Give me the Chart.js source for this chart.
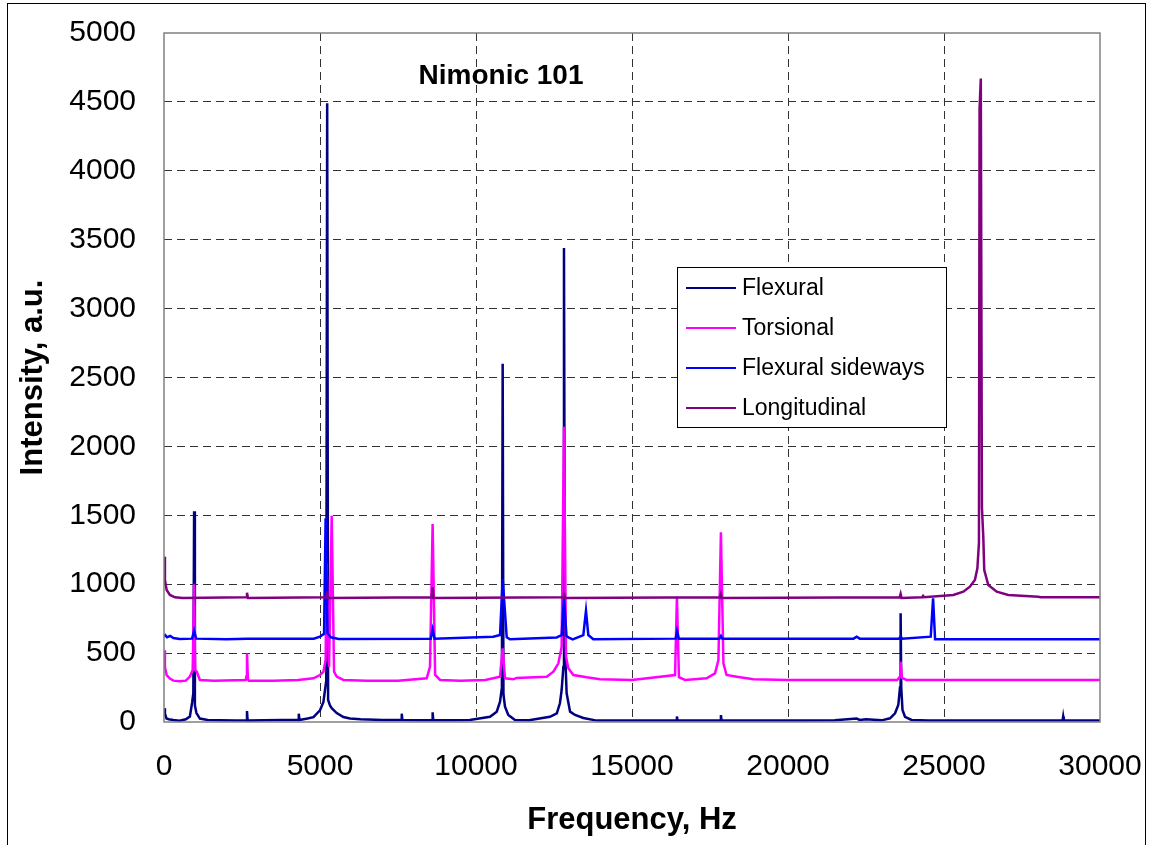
<!DOCTYPE html>
<html lang="en">
  <head>
    <meta charset="utf-8" />
    <title>Nimonic 101</title>
    <style>
      html,
      body {
        margin: 0;
        padding: 0;
        background: #fff;
        overflow: hidden;
      }

      .chartBox {
        position: relative;
        width: 1150px;
        height: 845px;
      }
    </style>
  </head>
  <body>
    <div class="chartBox">
      <canvas id="myChart"></canvas>
    </div>

    <script src="https://cdn.jsdelivr.net/npm/chart.js/dist/chart.umd.min.js"></script>
    <script>
      // setup - values, [frequency Hz, intensity a.u.]
      const chartTitle = "Nimonic 101";
      const seriesNames = ["Flexural", "Torsional", "Flexural sideways", "Longitudinal"];
      const seriesColors = ["#000080", "#FF00FF", "#0000FF", "#800080"];
      const xTicks = [0, 5000, 10000, 15000, 20000, 25000, 30000];
      const yTicks = [0, 500, 1000, 1500, 2000, 2500, 3000, 3500, 4000, 4500, 5000];

      const flexural = [
        [0, 100], [30, 60], [80, 25], [150, 20], [300, 15], [500, 10], [700, 20],
        [830, 40], [900, 140], [940, 210], [965, 1530], [990, 120], [1040, 65],
        [1150, 25], [1400, 15], [1800, 12], [2300, 10], [2640, 10], [2660, 80],
        [2680, 10], [3200, 12], [3800, 15], [4300, 15], [4320, 60], [4340, 15],
        [4600, 25], [4790, 35], [5000, 85], [5110, 145], [5200, 300], [5230, 4490],
        [5260, 160], [5320, 120], [5375, 100], [5535, 65], [5750, 36], [5960, 25],
        [6300, 20], [7000, 15], [7600, 15], [7620, 60], [7640, 15], [8200, 12],
        [8590, 12], [8610, 70], [8630, 12], [9200, 12], [9800, 15], [10450, 38],
        [10665, 75], [10770, 147], [10830, 250], [10855, 2600], [10880, 200],
        [10930, 111], [11035, 51], [11250, 15], [11700, 12], [12370, 38],
        [12590, 63], [12690, 136], [12745, 232], [12800, 400], [12820, 3440],
        [12850, 547], [12905, 208], [13015, 75], [13175, 51], [13440, 29],
        [13870, 10], [14500, 10], [15200, 10], [16420, 10], [16440, 40],
        [16460, 10], [17100, 10], [17830, 10], [17850, 50], [17870, 10],
        [18600, 10], [19500, 10], [20500, 10], [21500, 12], [22200, 25],
        [22300, 15], [22500, 20], [23000, 12], [23270, 27], [23430, 63],
        [23535, 123], [23590, 250], [23610, 789], [23630, 250], [23670, 87],
        [23750, 38], [23960, 15], [24500, 10], [25500, 10], [26500, 10],
        [27500, 10], [28800, 10], [28820, 40], [28840, 10], [30000, 10],
      ];

      const torsional = [
        [0, 520], [30, 400], [85, 340], [190, 315], [300, 300], [500, 295],
        [700, 300], [830, 330], [920, 377], [965, 1000], [1000, 380], [1050, 365],
        [1150, 305], [1600, 300], [2620, 305], [2640, 330], [2660, 498],
        [2690, 310], [2720, 300], [3500, 300], [4300, 305], [4790, 317],
        [5000, 341], [5110, 365], [5180, 450], [5210, 1150], [5290, 400],
        [5375, 1497], [5450, 365], [5535, 330], [5750, 305], [6500, 300],
        [7500, 300], [8420, 317], [8525, 400], [8610, 1437], [8690, 341],
        [8850, 305], [9500, 300], [10300, 305], [10770, 329], [10855, 535],
        [10930, 317], [11200, 310], [11300, 320], [12265, 329], [12480, 365],
        [12640, 426], [12745, 547], [12820, 2143], [12885, 474], [12960, 390],
        [13120, 341], [13550, 324], [13975, 310], [15000, 305], [16380, 341],
        [16440, 909], [16505, 325], [16700, 305], [17390, 317], [17660, 353],
        [17770, 450], [17850, 1377], [17930, 426], [18030, 341], [18355, 329],
        [18890, 310], [20000, 305], [23500, 305], [23590, 330], [23610, 438],
        [23650, 320], [23800, 305], [26000, 305], [30000, 305],
      ];

      const sideways = [
        [0, 620], [40, 630], [100, 615], [200, 625], [300, 610], [500, 602],
        [900, 605], [965, 663], [1030, 605], [2000, 600], [2660, 605],
        [4800, 605], [5000, 620], [5130, 640], [5180, 1478], [5240, 644],
        [5350, 615], [5600, 602], [8550, 605], [8610, 673], [8670, 605],
        [10555, 619], [10770, 631], [10855, 1038], [10985, 615], [11090, 600],
        [12586, 614], [12746, 631], [12820, 900], [12900, 625], [12960, 614],
        [13100, 600], [13440, 631], [13525, 808], [13600, 631], [13760, 600],
        [16400, 605], [16445, 660], [16500, 605], [17800, 605], [17850, 624],
        [17900, 605], [22100, 605], [22200, 619], [22300, 605], [23560, 605],
        [23610, 619], [23660, 605], [24575, 619], [24650, 898], [24714, 600],
        [30000, 600],
      ];

      const longitudinal = [
        [0, 1200], [30, 1030], [85, 958], [190, 922], [350, 905], [600, 900],
        [2630, 905], [2660, 938], [2690, 900], [5180, 905], [5220, 930],
        [5260, 900], [8580, 905], [8610, 977], [8640, 900], [12790, 905],
        [12820, 938], [12850, 900], [17820, 905], [17850, 930], [17880, 900],
        [23580, 905], [23610, 930], [23640, 900], [24300, 905], [24330, 915],
        [24360, 905], [25300, 922], [25620, 946], [25830, 982], [25990, 1030],
        [26070, 1115], [26120, 1300], [26140, 4450], [26180, 4670], [26215, 1560],
        [26260, 1340], [26290, 1103], [26420, 994], [26690, 946], [27060, 922],
        [28020, 909], [28100, 905], [30000, 905],
      ];

      const allSeries = [flexural, torsional, sideways, longitudinal];

      const data = {
        datasets: allSeries.map((s, i) => ({
          label: seriesNames[i],
          data: s.map((p) => ({ x: p[0], y: p[1] })),
          showLine: true,
          borderColor: seriesColors[i],
          backgroundColor: seriesColors[i],
          borderWidth: 2.5,
          pointRadius: 0,
          tension: 0,
          fill: false,
          order: allSeries.length - i, // flexural at the back, longitudinal on top
        })),
      };

      const gridColor = (ctx, lo, hi) =>
        ctx.tick && (ctx.tick.value === lo || ctx.tick.value === hi)
          ? "rgba(0,0,0,0)"
          : "#333333";

      // drop the label overhang padding so the plot box sits where the layout padding says
      const noOverhang = (scale) => {
        scale.paddingTop = 0;
        scale.paddingBottom = 0;
        scale.paddingLeft = 0;
        scale.paddingRight = 0;
      };

      // frame, title and legend drawn inside the plot
      const framePlugin = {
        id: "framePlugin",
        beforeDraw(chart) {
          const c = chart.ctx;
          c.save();
          c.fillStyle = "#ffffff";
          c.fillRect(0, 0, chart.width, chart.height);
          c.restore();
        },
        afterDraw(chart) {
          const c = chart.ctx;
          const a = chart.chartArea;
          c.save();
          // outer border
          c.strokeStyle = "#000000";
          c.lineWidth = 1;
          c.strokeRect(7.5, 3.5, 1138, 860);
          // plot frame
          c.strokeStyle = "#808080";
          c.lineWidth = 1.5;
          c.strokeRect(a.left, a.top, a.right - a.left, a.bottom - a.top);

          // title inside plot
          c.fillStyle = "#000000";
          c.font = "bold 28px 'Liberation Sans', Arial, sans-serif";
          c.textAlign = "center";
          c.textBaseline = "middle";
          c.fillText(chartTitle, a.left + 337, a.top + 43);

          // legend box
          const bx = a.left + 513;
          const by = a.top + 234;
          c.fillStyle = "#ffffff";
          c.fillRect(bx, by, 269, 160);
          c.strokeStyle = "#000000";
          c.lineWidth = 1;
          c.strokeRect(bx + 0.5, by + 0.5, 269, 160);
          c.font = "23px 'Liberation Sans', Arial, sans-serif";
          c.textAlign = "left";
          seriesNames.forEach((name, i) => {
            const yy = by + 21 + i * 40;
            c.strokeStyle = seriesColors[i];
            c.lineWidth = 2;
            c.beginPath();
            c.moveTo(bx + 9, yy);
            c.lineTo(bx + 59, yy);
            c.stroke();
            c.fillStyle = "#000000";
            c.fillText(name, bx + 65, yy + 1);
          });
          c.restore();
        },
      };

      // config
      const config = {
        type: "scatter",
        data,
        options: {
          responsive: true,
          maintainAspectRatio: false,
          animation: false,
          layout: {
            padding: { left: 0, top: 33, right: 50, bottom: 0 },
          },
          scales: {
            x: {
              type: "linear",
              min: 0,
              max: 30000,
              afterFit: (scale) => {
                scale.height = 123;
                noOverhang(scale);
              },
              afterBuildTicks: (scale) => {
                scale.ticks = xTicks.map((v) => ({ value: v }));
              },
              ticks: {
                color: "#000000",
                padding: 27,
                maxRotation: 0,
                autoSkip: false,
                font: { size: 30 },
                callback: (v) => String(v),
              },
              grid: {
                drawTicks: false,
                lineWidth: 1,
                color: (ctx) => gridColor(ctx, 0, 30000),
              },
              border: { display: false, dash: [8, 5] },
              title: {
                display: true,
                text: "Frequency, Hz",
                color: "#000000",
                font: { size: 31, weight: "bold" },
                padding: { top: 0, bottom: 6 },
              },
            },
            y: {
              type: "linear",
              min: 0,
              max: 5000,
              afterFit: (scale) => {
                scale.width = 164;
                noOverhang(scale);
              },
              afterBuildTicks: (scale) => {
                scale.ticks = yTicks.map((v) => ({ value: v }));
              },
              ticks: {
                color: "#000000",
                padding: 28,
                autoSkip: false,
                font: { size: 30 },
                callback: (v) => String(v),
              },
              grid: {
                drawTicks: false,
                lineWidth: 1,
                color: (ctx) => gridColor(ctx, 0, 5000),
              },
              border: { display: false, dash: [8, 5] },
              title: {
                display: true,
                text: "Intensity, a.u.",
                color: "#000000",
                font: { size: 31, weight: "bold" },
                padding: { top: 15, bottom: 0 },
              },
            },
          },
          plugins: {
            legend: { display: false },
            tooltip: { enabled: false },
          },
        },
        plugins: [framePlugin],
      };

      Chart.defaults.font.family = "'Liberation Sans', Arial, sans-serif";

      // render init block
      const myChart = new Chart(document.getElementById("myChart"), config);
    </script>
  </body>
</html>
